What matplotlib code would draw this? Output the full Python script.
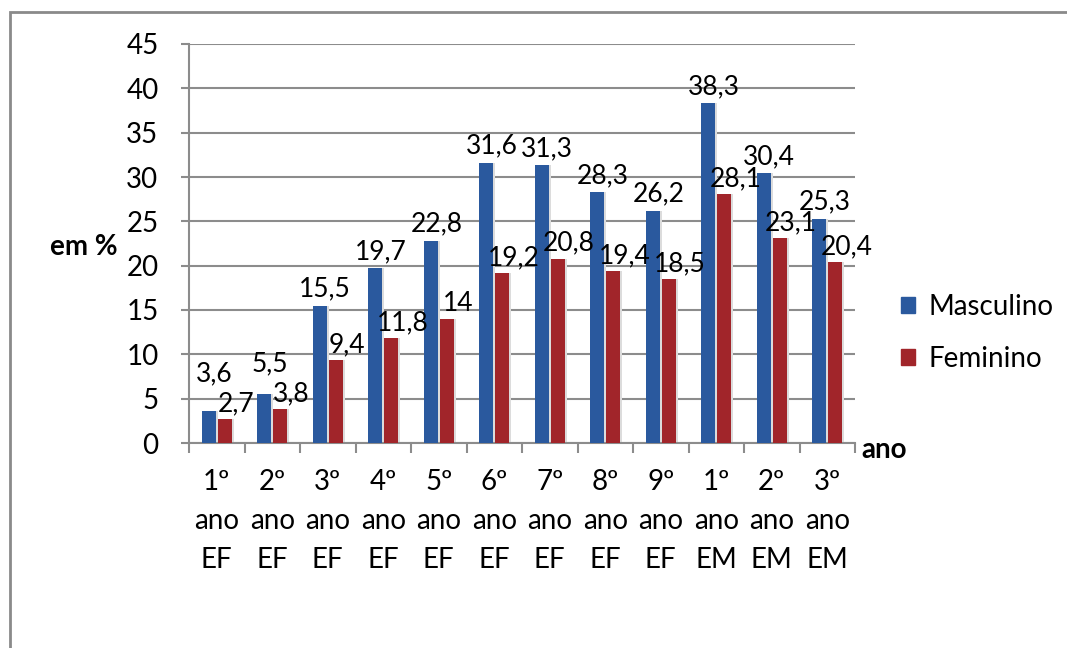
import numpy as np
import matplotlib.pyplot as plt
from matplotlib.patches import Patch, Rectangle

plt.rcParams['font.family'] = ['Lato', 'DejaVu Sans']

# dados
series = ['Masculino', 'Feminino']
anos = ['1º\nano\nEF', '2º\nano\nEF', '3º\nano\nEF', '4º\nano\nEF', '5º\nano\nEF',
        '6º\nano\nEF', '7º\nano\nEF', '8º\nano\nEF', '9º\nano\nEF',
        '1º\nano\nEM', '2º\nano\nEM', '3º\nano\nEM']
masculino = [3.6, 5.5, 15.5, 19.7, 22.8, 31.6, 31.3, 28.3, 26.2, 38.3, 30.4, 25.3]
feminino = [2.7, 3.8, 9.4, 11.8, 14, 19.2, 20.8, 19.4, 18.5, 28.1, 23.1, 20.4]

azul = '#2A599E'
vermelho = '#A1252A'
cinza = '#8C8C8C'

fig = plt.figure(figsize=(10.67, 6.48), dpi=100)
fig.patches.append(Rectangle((10/1067, -0.1), 1.2, 1 - 12/648 + 0.1, transform=fig.transFigure,
                             fill=False, edgecolor='#8a8a8a', lw=2))
ax = fig.add_axes([189/1067, 1 - 443/648, 666/1067, 399/648])

x = np.arange(len(anos))
w = 0.25
off = 0.145

#%% sombras + barras
ax.bar(x - off + 0.04, masculino, w, color='#dcdcdc', zorder=2)
ax.bar(x + off + 0.04, feminino, w, color='#dcdcdc', zorder=2)
b1 = ax.bar(x - off, masculino, w, color=azul, zorder=3, label='Masculino')
b2 = ax.bar(x + off, feminino, w, color=vermelho, zorder=3, label='Feminino')

def fmt(v):
    s = ('%.1f' % v).replace('.', ',')
    return s[:-2] if s.endswith(',0') else s

# rotulos: o azul sobe quando fica colado no vermelho
for r, m, f in zip(b1, masculino, feminino):
    ax.annotate(fmt(m), (r.get_x() + r.get_width()/2, max(m, f + 3.2)), xytext=(4, 3),
                textcoords='offset points', ha='center', va='bottom',
                fontsize=19, color='black', zorder=5)
for r, f in zip(b2, feminino):
    ax.annotate(fmt(f), (r.get_x() + r.get_width()/2, f), xytext=(8, 2),
                textcoords='offset points', ha='center', va='bottom',
                fontsize=19, color='black', zorder=5)

ax.set_xlim(-0.5, len(anos) - 0.5)
ax.set_ylim(0, 45)
ax.set_yticks(range(0, 46, 5))
ax.yaxis.grid(True, color=cinza, lw=1.5, zorder=0)
ax.set_axisbelow(True)

ax.set_xticks(x)
ax.set_xticklabels(anos, linespacing=1.6)
ax.set_xticks(np.arange(-0.5, len(anos)), minor=True)
ax.tick_params(axis='x', which='major', length=0, pad=19, labelsize=20)
ax.tick_params(axis='x', which='minor', length=7, width=1.5, color=cinza)
ax.tick_params(axis='y', length=6, width=1.5, color=cinza, pad=16, labelsize=20)

for s in ['top', 'right']:
    ax.spines[s].set_visible(False)
for s in ['left', 'bottom']:
    ax.spines[s].set_color(cinza)
    ax.spines[s].set_linewidth(1.5)

fig.text(50/1067, 1 - 247/648, 'em %', fontsize=20, fontweight='bold', va='center', ha='left')
fig.text(861/1067, 1 - 450/648, 'ano', fontsize=20, fontweight='bold', va='center', ha='left')

handles = [Patch(color=azul), Patch(color=vermelho)]
fig.legend(handles, series, loc='center left', bbox_to_anchor=(876/1067, 1 - 333/648),
           frameon=False, fontsize=20, handlelength=0.5, handleheight=0.5,
           handletextpad=0.5, labelspacing=0.95)

fig.savefig('out.png', dpi=100)
